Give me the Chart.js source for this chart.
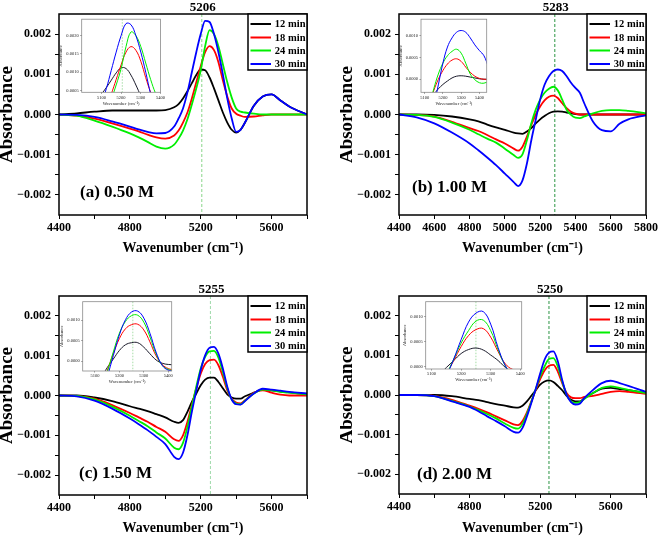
<!DOCTYPE html>
<html>
<head>
<meta charset="utf-8">
<script src="https://cdn.jsdelivr.net/npm/chart.js@4.4.0/dist/chart.umd.min.js"></script>
<style>
body { margin: 0; background: #fff; }
#fig { position: relative; width: 661px; height: 539px; overflow: hidden; background: #fff; }
#fig canvas { position: absolute; }
</style>
</head>
<body>
<div id="fig"></div>
<script>
// wavenumber grid (cm-1) shared by every series
var wavenumber = [4400,4500,4600,4700,4800,4850,4900,4950,5000,5050,5075,5100,5125,5150,5175,5200,
                  5225,5250,5275,5300,5325,5350,5375,5400,5425,5450,5500,5550,5600,5650,5700,5800];

// (a) 0.50 M
var a12 = [0,0.00003,0.00007,0.0001,0.0001,0.0001,0.0001,0.0001,0.00011,0.00018,0.00026,0.0004,0.00058,0.00078,0.00098,0.00112,
           0.0011,0.00092,0.00065,0.00035,0.00005,-0.0002,-0.00038,-0.00045,-0.00038,-0.0002,0.00022,0.00045,0.0005,0.00035,0.0002,0];
var a18 = [0,-0.00003,-0.0001,-0.00022,-0.00035,-0.00042,-0.0005,-0.00057,-0.0006,-0.00052,-0.0004,-0.0002,0.00005,0.0004,0.0008,0.0012,
           0.00155,0.0017,0.0016,0.0013,0.00085,0.00045,0.00015,0.00002,-0.00003,-0.00006,-0.00005,-0.00002,0,0,0,0];
var a24 = [0,-0.00003,-0.00015,-0.0003,-0.00047,-0.00057,-0.00068,-0.0008,-0.00085,-0.00075,-0.0006,-0.0004,-0.00012,0.00025,0.00065,0.0011,
           0.0017,0.0021,0.002,0.0017,0.00125,0.0008,0.00042,0.00015,0.00007,0.00005,0.00002,0,0,0,0,0];
var a30 = [0,-0.00001,-0.00006,-0.00017,-0.0003,-0.00037,-0.00043,-0.00047,-0.00046,-0.0003,-0.0001,0.00015,0.00055,0.00105,0.00155,0.002,
           0.00233,0.0023,0.002,0.00155,0.001,0.0004,-0.0001,-0.00043,-0.00038,-0.0002,0.00022,0.00045,0.0005,0.00035,0.0002,0];

// (b) 1.00 M
var b12 = [0,0,-0.00001,-0.00005,-0.00012,-0.00017,-0.00025,-0.00032,-0.00038,-0.00045,-0.00047,-0.00048,-0.00042,-0.00034,-0.00022,-0.00012,
           -0.00004,0.00003,0.00007,0.00008,0.00007,0.00005,0.00003,0.00001,0,0,0,0,0,0,0,0];
var b18 = [0,-0.00001,-0.00005,-0.00018,-0.00034,-0.00041,-0.00051,-0.00062,-0.00072,-0.00085,-0.0009,-0.0008,-0.00055,-0.00026,0,0.0002,
           0.00035,0.00044,0.00047,0.00041,0.00028,0.00016,0.00007,0.00002,0,0,0,0,0,0,0,0];
var b24 = [0,-0.00001,-0.00006,-0.0002,-0.00038,-0.00049,-0.0006,-0.0007,-0.00085,-0.00101,-0.00108,-0.00099,-0.00064,-0.00022,0.00012,0.00037,
           0.00054,0.00064,0.00069,0.0006,0.00037,0.00012,-0.00001,-0.00008,-0.00009,-0.00005,0.00003,0.00009,0.00011,0.00011,0.00009,0.00003];
var b30 = [0,-0.00007,-0.00022,-0.00045,-0.00072,-0.00089,-0.00107,-0.00126,-0.00147,-0.00168,-0.00178,-0.00164,-0.00122,-0.00064,-0.00013,0.00037,
           0.00074,0.00095,0.00108,0.00112,0.00108,0.00095,0.00079,0.00066,0.00054,0.00028,-0.00018,-0.00039,-0.00042,-0.00023,-0.00012,-0.00002];

// (c) 1.50 M
var c12 = [0,0,-0.00005,-0.00014,-0.00027,-0.00033,-0.00039,-0.00047,-0.00055,-0.00066,-0.00069,-0.00062,-0.00041,-0.00016,0.00005,0.00026,
           0.0004,0.00045,0.00045,0.00034,0.00018,0.00003,-0.00005,-0.00008,-0.00008,-0.00002,0.00007,0.00015,0.00013,0.0001,0.00008,0.00003];
var c18 = [0,-0.00001,-0.00008,-0.00024,-0.00044,-0.00055,-0.00066,-0.00079,-0.00091,-0.0011,-0.00114,-0.001,-0.00066,-0.00024,0.00018,0.00055,
           0.00079,0.00089,0.0009,0.00076,0.00047,0.00013,-0.00008,-0.00018,-0.0002,-0.00012,0.00007,0.00013,0.00007,0.00002,0,0];
var c24 = [0,-0.00001,-0.0001,-0.00028,-0.00051,-0.00064,-0.00077,-0.00093,-0.00108,-0.00131,-0.00135,-0.00119,-0.00079,-0.00028,0.00022,0.00068,
           0.00097,0.00111,0.00112,0.00095,0.00059,0.00018,-0.0001,-0.0002,-0.00022,-0.00013,0.00005,0.00015,0.00013,0.00009,0.00007,0.00003];
var c30 = [0,-0.00002,-0.00013,-0.00033,-0.00058,-0.00072,-0.00087,-0.00104,-0.00122,-0.00154,-0.0016,-0.00144,-0.001,-0.00041,0.00013,0.00064,
           0.00101,0.0012,0.00122,0.00105,0.00068,0.00022,-0.0001,-0.00022,-0.00023,-0.00014,0.00005,0.00017,0.00015,0.00012,0.00009,0.00005];

// (d) 2.00 M
var d12 = [0,0,0,-0.00003,-0.0001,-0.00013,-0.00018,-0.00023,-0.00027,-0.00031,-0.00032,-0.00027,-0.00016,-0.00002,0.00012,0.00026,
           0.00034,0.00037,0.00033,0.00023,0.00012,-0.00002,-0.00012,-0.00016,-0.00016,-0.00008,0.00005,0.00016,0.00018,0.00015,0.00012,0.00005];
var d18 = [0,0,-0.00002,-0.00012,-0.00027,-0.00035,-0.00044,-0.00054,-0.00064,-0.00074,-0.00076,-0.00066,-0.00044,-0.00016,0.00012,0.0004,
           0.00062,0.00074,0.00076,0.00059,0.0003,0.00005,-0.00006,-0.00008,-0.00008,-0.00005,-0.00002,0.00003,0.00008,0.0001,0.00008,0.00003];
var d24 = [0,0,-0.00003,-0.00015,-0.00029,-0.00038,-0.00048,-0.00059,-0.00072,-0.00083,-0.00085,-0.00073,-0.00048,-0.00017,0.00015,0.00047,
           0.00072,0.00091,0.00093,0.00072,0.00034,0.00001,-0.00016,-0.0002,-0.00018,-0.0001,0.00005,0.00018,0.00022,0.00018,0.00013,0.00005];
var d30 = [0,0,-0.00003,-0.00016,-0.0003,-0.00041,-0.00054,-0.00066,-0.00079,-0.00093,-0.00095,-0.00083,-0.00054,-0.0002,0.00015,0.00054,
           0.00089,0.00107,0.0011,0.00085,0.00038,0.00001,-0.00018,-0.00024,-0.00022,-0.00008,0.00013,0.0003,0.00036,0.0003,0.00023,0.00008];

var timeLabels = ["12 min", "18 min", "24 min", "30 min"];
var lineColors = ["#000000", "#ff0000", "#00ee00", "#0000ff"];
var panelNames = ["(a) 0.50 M", "(b) 1.00 M", "(c) 1.50 M", "(d) 2.00 M"];
var peakWavenumbers = [5206, 5283, 5255, 5250];

var mainXTicks = [4400,4600,4800,5000,5200,5400,5600,5800];
var mainYTicks = [-0.002,-0.0015,-0.001,-0.0005,0,0.0005,0.001,0.0015,0.002];
var insetXTicks = [5100,5200,5300,5400];

var FONT = '"Liberation Serif", "Times New Roman", serif';

function series(vals) {
  return wavenumber.map(function (w, i) { return {x: w, y: vals[i]}; });
}

function addCanvas(left, top, w, h) {
  var c = document.createElement('canvas');
  c.width = w; c.height = h;
  c.style.left = left + 'px'; c.style.top = top + 'px';
  document.getElementById('fig').appendChild(c);
  return c;
}

// box around the plot area (and white fill for the insets)
var framePlugin = {
  id: 'frame',
  beforeDraw: function (chart, args, o) {
    if (!o.fill) return;
    var a = chart.chartArea;
    chart.ctx.fillStyle = o.fill;
    chart.ctx.fillRect(a.left, a.top, a.right - a.left, a.bottom - a.top);
  },
  afterDatasetsDraw: function (chart, args, o) {
    var a = chart.chartArea, ctx = chart.ctx;
    ctx.save();
    ctx.strokeStyle = o.color;
    ctx.lineWidth = o.width;
    ctx.strokeRect(a.left, a.top, a.right - a.left, a.bottom - a.top);
    ctx.restore();
  }
};

// dashed vertical line at the peak and its number over the frame
var peakPlugin = {
  id: 'peak',
  beforeDatasetsDraw: function (chart, args, o) {
    if (o.value == null) return;
    var a = chart.chartArea, ctx = chart.ctx;
    var x = chart.scales.x.getPixelForValue(o.value);
    ctx.save();
    ctx.strokeStyle = o.color;
    ctx.lineWidth = o.width;
    ctx.setLineDash(o.dash);
    ctx.beginPath();
    ctx.moveTo(x, a.top);
    ctx.lineTo(x, a.bottom);
    ctx.stroke();
    if (o.label) {
      ctx.setLineDash([]);
      ctx.fillStyle = '#000';
      ctx.font = 'bold 13px ' + FONT;
      ctx.textAlign = 'center';
      ctx.textBaseline = 'alphabetic';
      ctx.fillText(o.label, x + 1, a.top - 3);
    }
    ctx.restore();
  }
};

// legend box in the top right corner
var legendBoxPlugin = {
  id: 'legendBox',
  afterDraw: function (chart, args, o) {
    if (!o.show) return;
    var a = chart.chartArea, ctx = chart.ctx;
    var w = 59, h = 56, x0 = a.right - w, y0 = a.top;
    var rows = [10, 23.5, 36.5, 50];
    ctx.save();
    ctx.fillStyle = '#fff';
    ctx.fillRect(x0, y0, w, h);
    ctx.strokeStyle = '#000';
    ctx.lineWidth = 1.5;
    ctx.strokeRect(x0, y0, w, h);
    ctx.font = 'bold 10.5px ' + FONT;
    ctx.textAlign = 'right';
    ctx.textBaseline = 'middle';
    chart.data.datasets.forEach(function (ds, k) {
      var y = y0 + rows[k];
      ctx.strokeStyle = ds.borderColor;
      ctx.lineWidth = 2;
      ctx.beginPath();
      ctx.moveTo(x0 + 2.5, y);
      ctx.lineTo(x0 + 23, y);
      ctx.stroke();
      ctx.fillStyle = '#000';
      ctx.fillText(ds.label, x0 + w - 1.5, y + 0.5);
    });
    ctx.restore();
  }
};

// "(a) 0.50 M" etc.
var panelTextPlugin = {
  id: 'panelText',
  afterDraw: function (chart, args, o) {
    if (!o.text) return;
    var a = chart.chartArea, ctx = chart.ctx;
    ctx.save();
    ctx.fillStyle = '#000';
    ctx.font = 'bold 17px ' + FONT;
    ctx.textAlign = 'left';
    ctx.textBaseline = 'alphabetic';
    ctx.fillText(o.text, a.left + o.dx, a.top + o.dy);
    ctx.restore();
  }
};

function yMain(v) {
  var m = Math.round(v * 10000);
  if (m % 10 !== 0) return '';
  return (m < 0 ? '\u2212' : '') + Math.abs(v).toFixed(3);
}

function mainChart(p) {
  var c = addCanvas(p.left, p.top, p.w, p.h);
  var datasets = p.sets.map(function (vals, k) {
    return {
      label: timeLabels[k], data: series(vals), borderColor: lineColors[k],
      borderWidth: 1.8, pointRadius: 0, cubicInterpolationMode: 'monotone', order: 3 - k
    };
  });
  return new Chart(c, {
    type: 'line',
    data: {datasets: datasets},
    options: {
      responsive: false, animation: false, events: [],
      layout: {padding: {left: 0, top: p.area.t, right: p.w - p.area.r, bottom: 0}},
      plugins: {
        legend: {display: false}, tooltip: {enabled: false},
        frame: {color: '#000', width: 1.5},
        peak: {value: p.peak, label: String(p.peak), color: p.dashColor, dash: [3, 2], width: 1.1},
        legendBox: {show: true},
        panelText: {text: p.name, dx: p.labelDx, dy: p.labelDy}
      },
      scales: {
        x: {
          type: 'linear', min: 4400, max: 5800,
          afterFit: function (s) { s.height = p.h - p.area.b; },
          afterBuildTicks: function (s) { s.ticks = mainXTicks.map(function (v) { return {value: v}; }); },
          ticks: {
            autoSkip: false, maxRotation: 0, padding: 2, color: '#000',
            font: {family: FONT, size: 12, weight: 'bold'},
            callback: function (v) { return p.xLabels.indexOf(v) >= 0 ? String(v) : ''; }
          },
          grid: {drawOnChartArea: false, drawTicks: true, tickLength: 4, color: '#000', lineWidth: 1},
          border: {display: false},
          title: {display: true, text: 'Wavenumber (cm\u207B\u00B9)', color: '#000',
                  font: {family: FONT, size: 14, weight: 'bold', lineHeight: 1.2},
                  padding: {top: 0, bottom: p.xTitlePad}}
        },
        y: {
          type: 'linear', min: -0.0025, max: 0.0025,
          afterFit: function (s) { s.width = p.area.l; },
          afterBuildTicks: function (s) { s.ticks = mainYTicks.map(function (v) { return {value: v}; }); },
          ticks: {
            autoSkip: false, padding: 4, color: '#000',
            font: {family: FONT, size: 12, weight: 'bold'},
            callback: yMain
          },
          grid: {drawOnChartArea: false, drawTicks: true, tickLength: 4, color: '#000', lineWidth: 1},
          border: {display: false},
          title: {display: true, text: 'Absorbance', color: '#000',
                  font: {family: FONT, size: 19, weight: 'bold', lineHeight: 0.75},
                  padding: {top: 0, bottom: 0}}
        }
      }
    },
    plugins: [framePlugin, peakPlugin, legendBoxPlugin, panelTextPlugin]
  });
}

function insetChart(p) {
  var A = p.area;
  var cl = Math.floor(A.l - 24), ct = Math.floor(A.t - 4);
  var cw = Math.ceil(A.r + 4) - cl, ch = Math.ceil(A.b + 20) - ct;
  var c = addCanvas(cl, ct, cw, ch);
  var datasets = p.sets.map(function (vals, k) {
    return {
      label: timeLabels[k], data: series(vals), borderColor: k === 0 ? '#1a1a2a' : lineColors[k],
      borderWidth: 1, pointRadius: 0, tension: 0.4, order: 3 - k
    };
  });
  var small = {family: FONT, size: 4.5};
  return new Chart(c, {
    type: 'line',
    data: {datasets: datasets},
    options: {
      responsive: false, animation: false, events: [],
      layout: {padding: {left: 0, top: A.t - ct, right: cw - (A.r - cl), bottom: 0}},
      plugins: {
        legend: {display: false}, tooltip: {enabled: false},
        frame: {color: '#8a8a8a', width: 0.8, fill: '#ffffff'},
        peak: {value: p.peak, label: '', color: '#8fd48f', dash: [1.5, 1.5], width: 0.8},
        legendBox: {show: false},
        panelText: {text: ''}
      },
      scales: {
        x: {
          type: 'linear', min: p.xRange[0], max: p.xRange[1],
          afterFit: function (s) { s.height = ch - (A.b - ct); },
          afterBuildTicks: function (s) { s.ticks = insetXTicks.map(function (v) { return {value: v}; }); },
          ticks: {autoSkip: false, maxRotation: 0, padding: 1, color: '#222', font: small,
                  callback: function (v) { return String(v); }},
          grid: {drawOnChartArea: false, drawTicks: true, tickLength: 1.5, color: '#555', lineWidth: 0.6},
          border: {display: false},
          title: {display: true, text: 'Wavenumber (cm\u207B\u00B9)', color: '#222',
                  font: {family: FONT, size: 4.5, lineHeight: 1.2}, padding: {top: 0, bottom: 6}}
        },
        y: {
          type: 'linear', min: p.yRange[0], max: p.yRange[1],
          afterFit: function (s) { s.width = A.l - cl; },
          afterBuildTicks: function (s) { s.ticks = p.yTicks.map(function (v) { return {value: v}; }); },
          ticks: {autoSkip: false, padding: 1.5, color: '#222', font: small,
                  callback: function (v) { return v.toFixed(4); }},
          grid: {drawOnChartArea: false, drawTicks: true, tickLength: 1.5, color: '#555', lineWidth: 0.6},
          border: {display: false},
          title: {display: true, text: 'Absorbance', color: '#222',
                  font: {family: FONT, size: 4.5, lineHeight: 1.2}, padding: {top: 1, bottom: 0}}
        }
      }
    },
    plugins: [framePlugin, peakPlugin]
  });
}

var panels = [
  {sets: [a12, a18, a24, a30], left: 0, top: 0, w: 330, h: 257, area: {l: 59, t: 14, r: 307, b: 215},
   xLabels: [4400, 4800, 5200, 5600], xTitlePad: 0.6, dashColor: '#93d993', labelDx: 21, labelDy: 183},
  {sets: [b12, b18, b24, b30], left: 340, top: 0, w: 321, h: 257, area: {l: 59, t: 14, r: 306, b: 215},
   xLabels: mainXTicks, xTitlePad: 0.6, dashColor: '#3f9f55', labelDx: 13, labelDy: 178},
  {sets: [c12, c18, c24, c30], left: 0, top: 282, w: 330, h: 257, area: {l: 59, t: 14, r: 307, b: 213},
   xLabels: [4400, 4800, 5200, 5600], xTitlePad: 2.6, dashColor: '#a6dcb0', labelDx: 20, labelDy: 182},
  {sets: [d12, d18, d24, d30], left: 340, top: 282, w: 321, h: 257, area: {l: 59, t: 14, r: 306, b: 212},
   xLabels: [4400, 4800, 5200, 5600], xTitlePad: 2.6, dashColor: '#3f9f55', labelDx: 18, labelDy: 183}
];

var insets = [
  {area: {l: 81.7, t: 19, r: 162, b: 92.3}, xRange: [5000, 5400], yRange: [0.00045, 0.00245],
   yTicks: [0.0005, 0.001, 0.0015, 0.002], peak: 5206},
  {area: {l: 421, t: 19, r: 486.7, b: 92.3}, xRange: [5080, 5440], yRange: [-0.0003, 0.00138],
   yTicks: [0, 0.0005, 0.001], peak: null},
  {area: {l: 82.7, t: 301.7, r: 171.7, b: 371}, xRange: [5050, 5414], yRange: [-0.00024, 0.00145],
   yTicks: [0, 0.0005, 0.001], peak: 5255},
  {area: {l: 425.7, t: 301.7, r: 521.7, b: 369}, xRange: [5080, 5405], yRange: [-0.00005, 0.0013],
   yTicks: [0, 0.0005, 0.001], peak: 5250}
];

panels.forEach(function (p, i) {
  p.name = panelNames[i];
  p.peak = peakWavenumbers[i];
  mainChart(p);
});
insets.forEach(function (p, i) {
  p.sets = panels[i].sets;
  insetChart(p);
});
</script>
</body>
</html>
